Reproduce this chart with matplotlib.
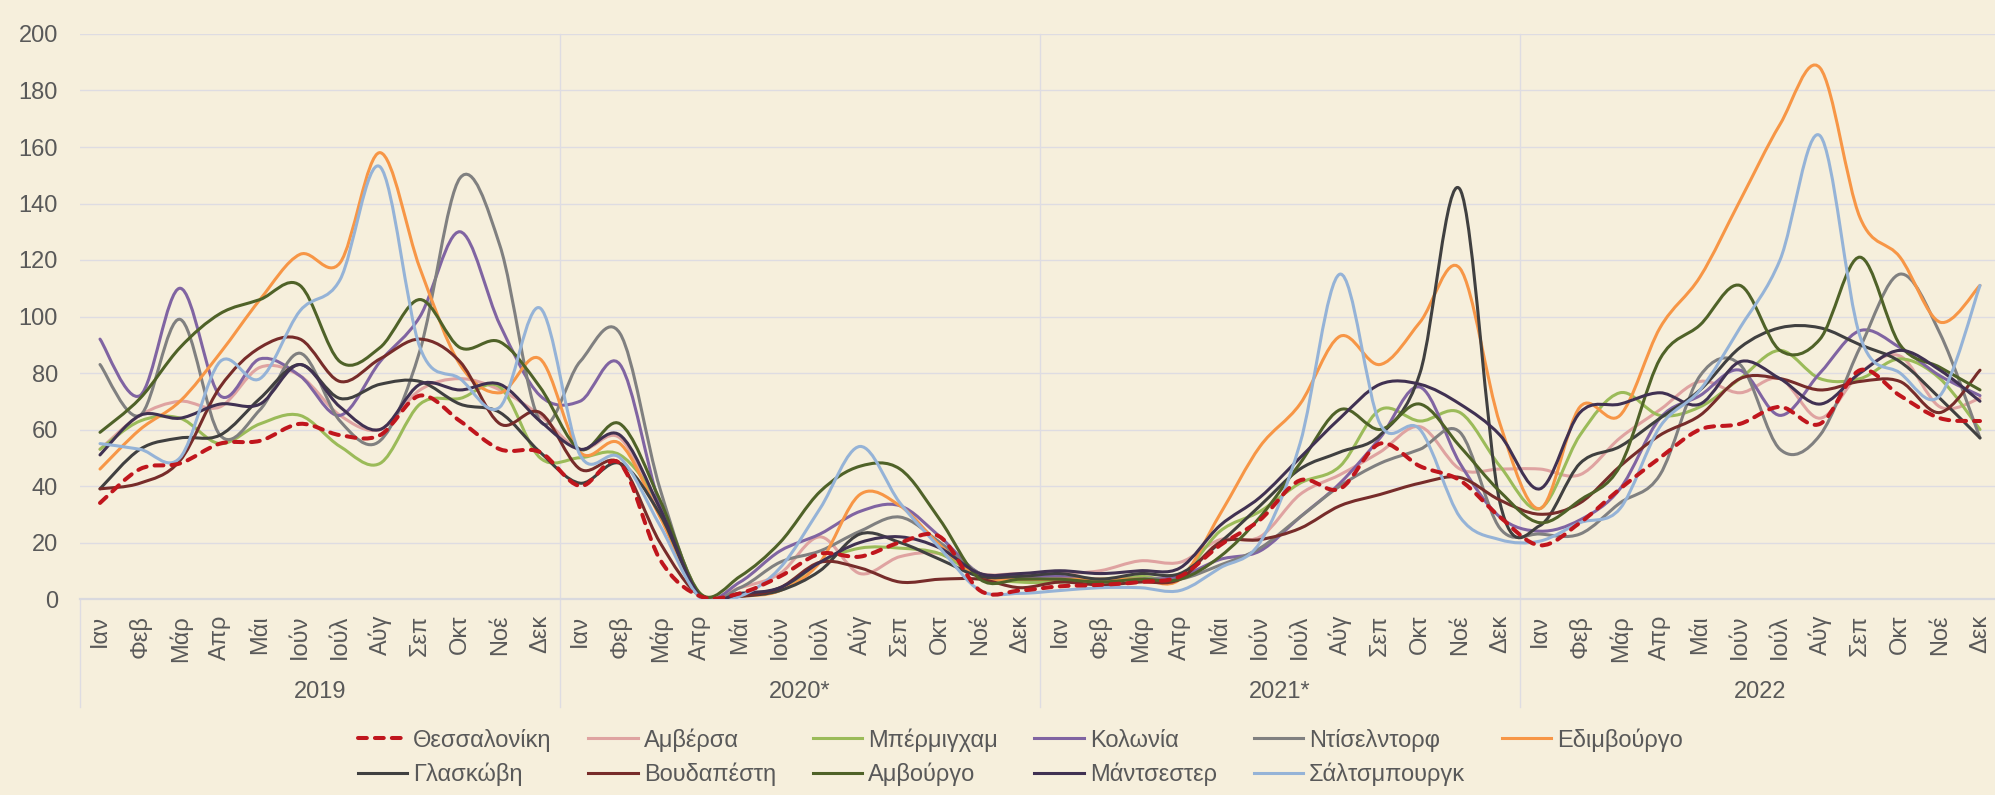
import numpy as np
import matplotlib
matplotlib.use("Agg")
import matplotlib.pyplot as plt
from matplotlib.path import Path
from matplotlib.patches import PathPatch
from matplotlib.lines import Line2D

plt.rcParams["font.family"] = ["Liberation Sans", "DejaVu Sans"]

BG = "#F6EFDC"
TXT = "#595959"
GRID = "#DEDCE2"

months = ["Ιαν", "Φεβ", "Μάρ", "Απρ", "Μάι", "Ιούν",
          "Ιούλ", "Αύγ", "Σεπ", "Οκτ", "Νοέ", "Δεκ"]
years = ["2019", "2020*", "2021*", "2022"]

thessaloniki = [34, 46, 48, 55, 56, 62, 58, 58, 72, 63, 53, 52,
                40, 48, 14, 1, 2, 8, 16, 15, 20, 22, 3, 3,
                4.5, 5, 6, 8, 19, 28, 42, 39, 55, 47, 42, 29,
                19, 27, 39, 50, 60, 62, 68, 62, 81, 72, 64, 63]
antwerp = [53, 65, 70, 68, 82, 79, 65, 60, 74, 78, 74, 65,
           53, 57, 30, 1, 4, 9, 22, 9, 15, 16, 9, 9,
           9, 10, 13.5, 13, 21, 22, 37, 44, 52, 61, 46, 46,
           46, 44, 57, 67, 77, 73, 78, 64, 80, 86, 68, 71]
birmingham = [53, 63, 64, 55, 62, 65, 54, 48, 69, 71, 75, 50,
              50, 51, 33, 2, 2, 3, 13, 18, 18, 16, 8, 6,
              6, 7, 8, 8, 24, 31, 41, 47, 67, 63, 66, 47,
              32, 58, 73, 65, 68, 78, 88, 78, 78, 85, 78, 60]
cologne = [92, 72, 110, 72, 85, 79, 65, 84, 100, 130, 97, 72,
           70, 83, 33, 1, 6, 17, 23, 31, 33, 22, 9, 8,
           8, 7, 7, 8, 14, 17, 29, 41, 57, 75, 48, 29,
           24, 28, 39, 64, 72, 81, 65, 80, 95, 89, 79, 72]
dusseldorf = [83, 65, 99, 58, 67, 87, 63, 56, 88, 149, 125, 63,
              84, 94, 39, 1.5, 4, 13, 17, 24, 29, 20, 9, 7,
              7, 7, 7, 7, 12, 18, 29, 40, 48, 53, 59, 25,
              23, 23, 34, 44, 79, 83, 53, 58, 89, 115, 94, 57]
edinburgh = [46, 60, 70, 87, 106, 122, 119, 158, 117, 83, 73, 85,
             52, 55, 29, 1, 1, 3, 13, 37, 33, 19, 8, 7,
             7, 7, 7, 7, 30, 54, 69, 93, 83, 98, 117, 62,
             32, 68, 65, 96, 114, 141, 168, 188, 135, 121, 98, 111]
glasgow = [39, 53, 57, 58, 71, 83, 71, 76, 77, 69, 66, 52,
           41, 48, 30, 1, 1, 3, 10, 23, 20, 14, 8, 8,
           9, 7, 9, 9, 20, 33, 46, 52, 58, 80, 145, 34,
           26, 48, 54, 64, 74, 89, 96, 96, 90, 84, 71, 57]
budapest = [39, 41, 49, 75, 89, 92, 77, 85, 92, 84, 62, 66,
            46, 48, 20, 1, 1, 4, 13, 11, 6, 7, 7, 4,
            6, 5, 6, 7, 20, 21, 25, 33, 37, 41, 43, 35,
            30, 34, 47, 58, 65, 78, 78, 74, 77, 77, 66, 81]
hamburg = [59, 71, 89, 101, 106, 111, 84, 89, 106, 89, 91, 75,
           53, 62, 35, 2, 8, 20, 38, 47, 46, 28, 7, 7,
           7, 6, 7, 7, 15, 29, 48, 67, 60, 69, 54, 38,
           27, 35, 47, 85, 97, 111, 88, 92, 121, 90, 82, 74]
manchester = [51, 65, 64, 69, 69, 83, 68, 60, 76, 74, 76, 63,
              53, 58, 32, 1, 2, 4, 13, 20, 22, 18, 9, 9,
              10, 9, 10, 11, 26, 36, 50, 64, 76, 76, 69, 58,
              39, 66, 69, 73, 69, 84, 78, 69, 80, 88, 81, 70]
salzburg = [55, 53, 50, 84, 78, 102, 113, 153, 89, 78, 68, 103,
            51, 50, 26, 0.5, 1, 11, 32, 54, 34, 18, 3, 2,
            3, 4, 4, 3, 11, 20, 55, 115, 62, 60, 29, 21,
            20.5, 27, 32, 61, 74, 96, 120, 164, 93, 80, 72, 111]

series = [
    ("Θεσσαλονίκη", thessaloniki, "#C0161D"),
    ("Αμβέρσα", antwerp, "#DFA3A1"),
    ("Μπέρμιγχαμ", birmingham, "#9BBB59"),
    ("Κολωνία", cologne, "#8064A2"),
    ("Ντίσελντορφ", dusseldorf, "#808080"),
    ("Εδιμβούργο", edinburgh, "#F79646"),
    ("Γλασκώβη", glasgow, "#404040"),
    ("Βουδαπέστη", budapest, "#772C2A"),
    ("Αμβούργο", hamburg, "#4F6228"),
    ("Μάντσεστερ", manchester, "#403152"),
    ("Σάλτσμπουργκ", salzburg, "#95B3D7"),
]


def smooth_path(xs, ys):
    """Cubic Bezier through every point, spreadsheet-style smoothing."""
    pts = np.column_stack([xs, ys]).astype(float)
    ext = np.vstack([pts[0], pts, pts[-1]])
    verts = [pts[0]]
    codes = [Path.MOVETO]
    for i in range(len(pts) - 1):
        p0, p1, p2, p3 = ext[i], ext[i + 1], ext[i + 2], ext[i + 3]
        verts += [p1 + (p2 - p0) / 6, p2 - (p3 - p1) / 6, p2]
        codes += [Path.CURVE4] * 3
    return Path(verts, codes)


fig = plt.figure(figsize=(19.95, 7.95), dpi=100, facecolor=BG)
ax = fig.add_axes([80 / 1995, 1 - 599 / 795, 1920 / 1995, 565 / 795])
ax.set_facecolor(BG)

n = len(months) * len(years)
x = np.arange(n)

handles = []
for k, (name, vals, col) in enumerate(series):
    dashed = k == 0
    lw = 2.9 if dashed else 2.2
    ls = (0, (2.2, 2.0)) if dashed else "-"
    patch = PathPatch(smooth_path(x, vals), facecolor="none", edgecolor=col,
                      lw=lw, linestyle=ls, capstyle="round",
                      joinstyle="round", zorder=20 if dashed else 3 + k)
    ax.add_patch(patch)
    handles.append(Line2D([], [], color=col, lw=lw, linestyle=ls,
                          dash_capstyle="round"))

ax.set_xlim(-0.5, n - 0.5)
ax.set_ylim(0, 200)
ax.set_yticks(np.arange(0, 201, 20))
ax.yaxis.grid(True, color=GRID, lw=1.0)
ax.set_axisbelow(True)
for s in ["left", "right", "top"]:
    ax.spines[s].set_visible(False)
ax.spines["bottom"].set_color("#D9D9DE")
ax.spines["bottom"].set_linewidth(1.6)

ax.set_xticks(x)
ax.set_xticklabels(months * len(years), rotation=90)
ax.tick_params(axis="x", length=0, pad=11.5, labelsize=17, labelcolor=TXT)
ax.tick_params(axis="y", length=0, pad=16, labelsize=17, labelcolor=TXT)

# year separators inside the plot and through the category band below it
trans = ax.get_xaxis_transform()
band_bottom = -108 / 565
for b in np.arange(11.5, n - 1, 12):
    ax.plot([b, b], [band_bottom, 1], transform=trans, color=GRID, lw=1.0,
            clip_on=False, zorder=1)
ax.plot([-0.5, -0.5], [band_bottom, 0], transform=trans, color=GRID, lw=1.0,
        clip_on=False)
for j, yr in enumerate(years):
    ax.text(j * 12 + 5.5, -93 / 565, yr, transform=trans, ha="center",
            va="center", fontsize=17, color=TXT)

order = [0, 6, 1, 7, 2, 8, 3, 9, 4, 10, 5]
fig.legend([handles[i] for i in order], [series[i][0] for i in order],
           ncol=6, loc="center", bbox_to_anchor=(0.5115, 1 - 757 / 795),
           frameon=False, fontsize=17, labelcolor=TXT, handlelength=2.1,
           handletextpad=0.25, columnspacing=1.55, labelspacing=0.45)

fig.savefig("out.png", dpi=100, facecolor=BG)
